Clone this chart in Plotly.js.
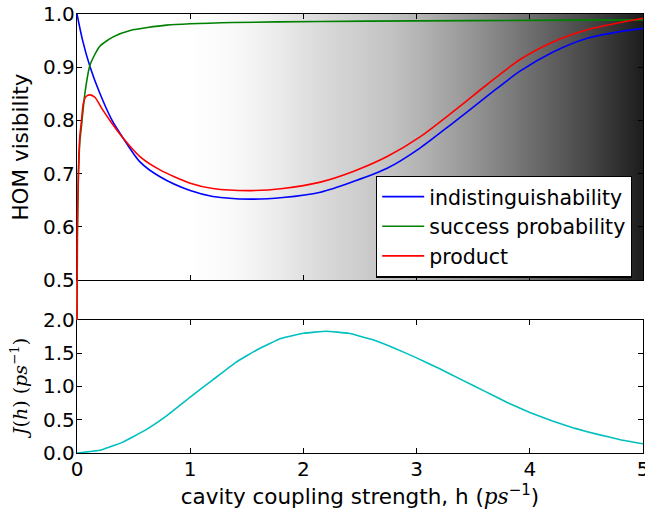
<!DOCTYPE html>
<html>
<head>
<meta charset="utf-8">
<script src="https://cdn.plot.ly/plotly-3.0.1.min.js"></script>
<style>html,body{margin:0;padding:0;background:#fff;}#chart{width:645px;height:509px;}</style>
</head>
<body>
<div id="chart"></div>
<script>
// ---- data ----
const indistH = [0, 0.05, 0.115, 0.2, 0.31, 0.41, 0.556, 0.733, 1.0, 1.2, 1.53, 1.82, 2.15, 2.44, 2.74, 3.03, 3.32, 3.62, 3.91, 4.21, 4.50, 4.80, 5.0];
const indistV = [1.0, 0.950, 0.901, 0.852, 0.800, 0.766, 0.722, 0.694, 0.668, 0.657, 0.652, 0.655, 0.665, 0.685, 0.710, 0.748, 0.795, 0.845, 0.892, 0.929, 0.954, 0.967, 0.973];

const successH = [0, 0.003, 0.012, 0.025, 0.04, 0.07, 0.115, 0.2, 0.32, 0.47, 0.79, 1.38, 2.15, 3.0, 4.0, 5.0];
const successV = [0.40, 0.58, 0.69, 0.76, 0.79, 0.851, 0.904, 0.939, 0.957, 0.969, 0.979, 0.984, 0.986, 0.987, 0.988, 0.989];

const productH = [0, 0.003, 0.012, 0.025, 0.04, 0.056, 0.08, 0.115, 0.16, 0.22, 0.3, 0.41, 0.556, 0.733, 1.0, 1.2, 1.53, 1.82, 2.15, 2.44, 2.74, 3.03, 3.32, 3.62, 3.91, 4.21, 4.50, 4.80, 5.0];
const productV = [0.40, 0.59, 0.70, 0.77, 0.80, 0.832, 0.845, 0.848, 0.843, 0.822, 0.797, 0.766, 0.732, 0.707, 0.682, 0.672, 0.668, 0.672, 0.684, 0.704, 0.732, 0.769, 0.816, 0.867, 0.914, 0.948, 0.970, 0.984, 0.992];

const jH = [0, 0.2, 0.4, 0.6, 0.8, 1.0, 1.2, 1.4, 1.6, 1.8, 2.0, 2.2, 2.4, 2.6, 2.8, 3.0, 3.2, 3.4, 3.6, 3.8, 4.0, 4.2, 4.4, 4.6, 4.8, 5.0];
const jV = [0, 0.04, 0.16, 0.34, 0.57, 0.84, 1.10, 1.36, 1.56, 1.72, 1.80, 1.83, 1.80, 1.71, 1.58, 1.43, 1.27, 1.10, 0.93, 0.76, 0.61, 0.48, 0.37, 0.28, 0.20, 0.14];

// background shading (grey level 0-255) across h (one padding sample past each end)
const bgH = [-0.25, 0, 0.25, 0.5, 0.75, 1.0, 1.25, 1.5, 1.75, 2.0, 2.25, 2.5, 2.75, 3.0, 3.25, 3.5, 3.75, 4.0, 4.25, 4.5, 4.75, 5.0, 5.25];
const bgShade = [255, 255, 255, 255, 255, 255, 251, 245, 236, 225, 214, 205, 195, 181, 165, 148, 129, 110, 91, 72, 50, 28, 10];

const seriesNames = ['indistinguishability', 'success probability', 'product'];
const xTicks = [0, 1, 2, 3, 4, 5];

const FONT = 'DejaVu Sans';

// geometry: plot area starts 2px left of the axes so curves at h=0 are not half-clipped
const L = 75, R = 2, PW = 645 - L - R;
const d0 = 2 / PW;

const traces = [
  {type: 'heatmap', x: bgH, y: [0.5, 1.0], z: [bgShade, bgShade], xaxis: 'x2', yaxis: 'y',
   colorscale: [[0, '#000000'], [1, '#ffffff']], zmin: 0, zmax: 255, zsmooth: 'best',
   showscale: false, hoverinfo: 'skip', showlegend: false},
  {type: 'scatter', mode: 'lines', x: indistH, y: indistV, name: seriesNames[0], xaxis: 'x3', yaxis: 'y3',
   line: {color: '#0000ff', width: 1.6, shape: 'spline', smoothing: 0.8}},
  {type: 'scatter', mode: 'lines', x: successH, y: successV, name: seriesNames[1], xaxis: 'x3', yaxis: 'y3',
   line: {color: '#008000', width: 1.6, shape: 'spline', smoothing: 0.6}},
  {type: 'scatter', mode: 'lines', x: productH, y: productV, name: seriesNames[2], xaxis: 'x3', yaxis: 'y3',
   line: {color: '#ff0000', width: 1.6, shape: 'spline', smoothing: 0.7}},
  {type: 'scatter', mode: 'lines', x: jH, y: jV, xaxis: 'x', yaxis: 'y2', showlegend: false,
   line: {color: '#00bfbf', width: 1.6, shape: 'spline', smoothing: 0.3}}
];

const axBase = {
  showline: true, mirror: 'ticks', linecolor: '#000', linewidth: 1.2,
  ticks: 'inside', ticklen: 5, tickwidth: 1, tickcolor: '#000',
  showgrid: false, zeroline: false, fixedrange: true, ticklabeloverflow: 'allow',
  tickfont: {family: FONT, size: 20, color: '#000'}
};

const layout = {
  width: 645, height: 509,
  margin: {l: L, r: R, t: 14, b: 56, pad: 0},
  paper_bgcolor: '#ffffff', plot_bgcolor: 'rgba(0,0,0,0)',
  font: {family: FONT, size: 20, color: '#000'},
  showlegend: true,
  legend: {x: (376 - 77) / 566 * (1 - d0) + d0, xanchor: 'left', y: 0.632, yanchor: 'top',
           bgcolor: '#ffffff', bordercolor: '#000', borderwidth: 1.2,
           itemwidth: 42, entrywidth: 205, entrywidthmode: 'pixels',
           font: {family: FONT, size: 20.5, color: '#000'}},
  xaxis: Object.assign({}, axBase, {anchor: 'y2', domain: [d0, 1], range: [0, 5],
    tickvals: xTicks, ticktext: xTicks.map(String), ticklabelstandoff: -2,
    title: {text: 'cavity coupling strength, h (<span style="font-family:DejaVu Serif;font-style:italic">ps</span><sup>−1</sup>)',
            font: {family: FONT, size: 21.5, color: '#000'}, standoff: 2}}),
  xaxis2: Object.assign({}, axBase, {anchor: 'y', domain: [d0, 1], range: [0, 5],
    tickvals: xTicks, showticklabels: false}),
  xaxis3: {anchor: 'y3', domain: [0, 1], range: [-5 * 2 / 566, 5], visible: false,
    showgrid: false, zeroline: false, fixedrange: true},
  yaxis: Object.assign({}, axBase, {anchor: 'x2', domain: [0.394, 1], range: [0.5, 1.0],
    tickvals: [0.5, 0.6, 0.7, 0.8, 0.9, 1.0], tickformat: '.1f', ticklabelstandoff: -3,
    title: {text: 'HOM visibility', font: {family: FONT, size: 21.5, color: '#000'}, standoff: 8}}),
  yaxis2: Object.assign({}, axBase, {anchor: 'x', domain: [0, 0.303], range: [0, 2.0],
    tickvals: [0, 0.5, 1.0, 1.5, 2.0], tickformat: '.1f', ticklabelstandoff: -3,
    title: {text: '<i>J</i>(<i>h</i>) (<i>ps</i><sup>−1</sup>)', font: {family: 'DejaVu Serif', size: 19, color: '#000'}, standoff: 10}}),
  yaxis3: {anchor: 'x3', domain: [0.303, 1], range: [1 - (306 / 266) * 0.5, 1.0], visible: false,
    showgrid: false, zeroline: false, fixedrange: true}
};

Plotly.newPlot('chart', traces, layout, {staticPlot: true, displayModeBar: false});
</script>
</body>
</html>
